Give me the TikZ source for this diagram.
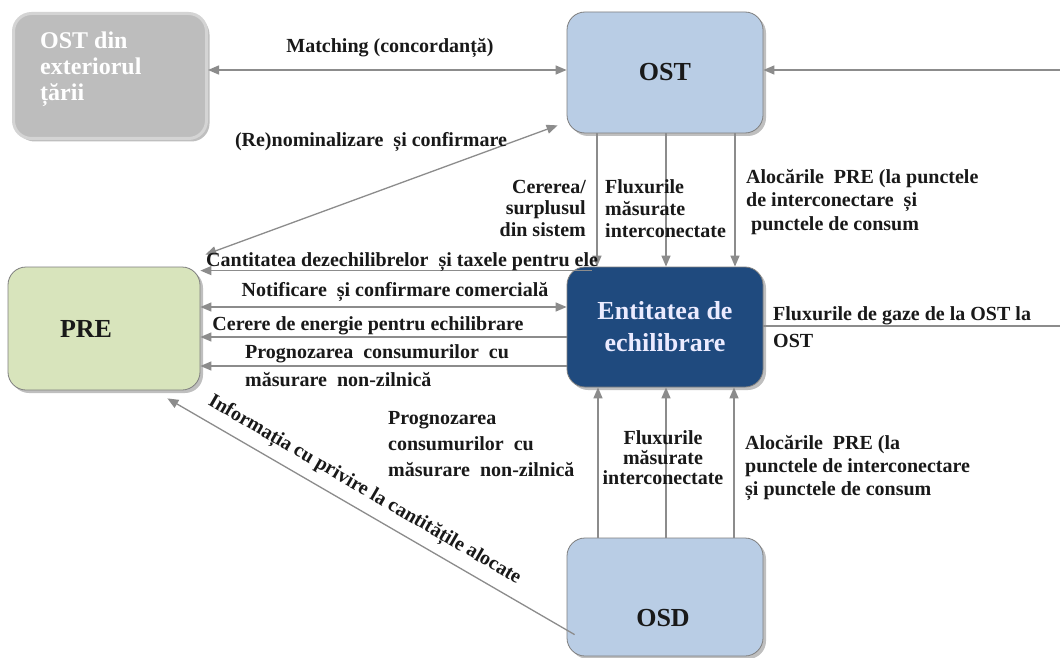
\documentclass[tikz,border=0pt]{standalone}
\usepackage{fontspec}
\setmainfont{Liberation Serif}
\usetikzlibrary{arrows.meta,shadows}
\definecolor{lineg}{HTML}{8C8C8C}
\definecolor{boxborder}{HTML}{7F7F7F}
\definecolor{ostfill}{HTML}{B9CDE5}
\definecolor{entfill}{HTML}{1F4A7E}
\definecolor{prefill}{HTML}{D8E4BC}
\definecolor{extfill}{HTML}{BDBDBD}
\definecolor{extring}{HTML}{D4D4D4}
\begin{document}
\begin{tikzpicture}[x=1pt,y=-1pt,
  box/.style={rounded corners=18pt, draw=boxborder, line width=0.8pt, minimum width=196pt, inner sep=0pt,
    drop shadow={shadow xshift=3pt,shadow yshift=-3pt,fill=black,opacity=0.25}},
  lbl/.style={font=\fontsize{20}{21}\selectfont\bfseries, inner sep=0pt, text=black!90},
  boxtxt/.style={font=\fontsize{26}{32}\selectfont\bfseries},
  arr/.style={draw=lineg, line width=1.3pt, -{Triangle[length=11pt,width=9pt]}},
  dbl/.style={draw=lineg, line width=1.3pt, {Triangle[length=11pt,width=9pt]}-{Triangle[length=11pt,width=9pt]}},
  ln/.style={draw=lineg, line width=1.3pt}]
\useasboundingbox (0,0) rectangle (1060,658);
\fill[white] (0,0) rectangle (1060,658);

% boxes
\node[box, fill=extfill, draw=extring, line width=3pt, minimum width=193pt, minimum height=125pt] (ostext) at (110,76) {};
\node[font=\fontsize{24}{26}\selectfont\bfseries, text=white, align=left, anchor=west, inner sep=0pt] (ostextt) at (40,69) {OST din\\exteriorul\\țării};
\node[box, fill=ostfill, minimum height=121pt, boxtxt, text=black!90] (ost) at (665,72.5) {OST};
\node[box, fill=prefill, minimum width=192pt, minimum height=123pt, boxtxt, text=black!90] (pre) at (104,328.5) {PRE\hspace*{36pt}};
\node[box, fill=entfill, minimum height=120pt, boxtxt, text=white!92!blue, align=center] (ent) at (665,327) {Entitatea de\\echilibrare};
\node[box, fill=ostfill, minimum height=118pt] (osd) at (665,597) {};
\node[boxtxt, text=black!90, inner sep=0pt] (osdt) at (663,618) {OSD};

% helper coordinates
\coordinate (mline) at (0,70);
\coordinate (rin) at (1060,70);
\coordinate (rout) at (1060,326);
\coordinate (yN) at (0,307);
\coordinate (yC) at (0,337);
\coordinate (yP) at (0,366);
\coordinate (cq) at ([shift={(25,4)}]ent.north west);

% top connectors
\draw[dbl] (ostext.east |- mline) -- (ost.west |- mline);
\node[lbl] (lmatch) at (390,48) {Matching (concordanță)};
\draw[arr] (rin) -- (rin -| ost.east);
\draw[dbl] ([shift={(5,-12)}]pre.north east) -- ([shift={(-9,-8)}]ost.south west);
\node[lbl] (lrenom) at (371,142) {(Re)nominalizare \ și confirmare};

% OST -> entity
\draw[arr] ([xshift=-68pt]ost.south) -- ([xshift=-68pt]ent.north);
\draw[arr] ([xshift=1pt]ost.south) -- ([xshift=1pt]ent.north);
\draw[arr] ([xshift=70pt]ost.south) -- ([xshift=70pt]ent.north);
\node[lbl, font=\fontsize{20}{21.5}\selectfont\bfseries, align=right, anchor=east] (lcer1) at (586,208) {Cererea/\\surplusul\\din sistem};
\node[lbl, font=\fontsize{20}{22}\selectfont\bfseries, align=left, anchor=west] (lflux1) at (605,209) {Fluxurile\\măsurate\\interconectate};
\node[lbl, font=\fontsize{20}{23.5}\selectfont\bfseries, align=left, anchor=west] (laloc1) at (746,202) {Alocările \ PRE (la punctele\\de interconectare \ și\\\ punctele de consum};

% PRE <-> entity
\draw[arr] (cq) -- (cq -| pre.east);
\node[lbl, anchor=west] (lcant) at (206,262) {Cantitatea dezechilibrelor \ și taxele pentru ele};
\draw[dbl] (pre.east |- yN) -- (ent.west |- yN);
\node[lbl] (lnotif) at (395,292) {Notificare \ și confirmare comercială};
\draw[arr] (ent.west |- yC) -- (pre.east |- yC);
\node[lbl] (lcerere) at (368,326) {Cerere de energie pentru echilibrare};
\draw[arr] (ent.west |- yP) -- (pre.east |- yP);
\node[lbl, font=\fontsize{20}{28}\selectfont\bfseries, align=left, anchor=west] (lprog1) at (245,366) {Prognozarea \ consumurilor \ cu\\măsurare \ non-zilnică};

% entity -> right
\draw[ln] (rout -| ent.east) -- (rout);
\node[lbl, font=\fontsize{20}{27}\selectfont\bfseries, align=left, anchor=west] (lgaze) at (773,327) {Fluxurile de gaze de la OST la\\OST};

% OSD -> entity
\draw[arr] ([xshift=-67pt]osd.north) -- ([xshift=-67pt]ent.south);
\draw[arr] ([xshift=1pt]osd.north) -- ([xshift=1pt]ent.south);
\draw[arr] ([xshift=69pt]osd.north) -- ([xshift=69pt]ent.south);
\node[lbl, font=\fontsize{20}{26}\selectfont\bfseries, align=left, anchor=west] (lprog2) at (388,444) {Prognozarea\\consumurilor \ cu\\măsurare \ non-zilnică};
\node[lbl, font=\fontsize{20}{20}\selectfont\bfseries, align=center] (lflux2) at (663,458) {Fluxurile\\măsurate\\interconectate};
\node[lbl, font=\fontsize{20}{23}\selectfont\bfseries, align=left, anchor=west] (laloc2) at (745,468) {Alocările \ PRE (la\\punctele de interconectare\\și punctele de consum};

% OSD -> PRE
\draw[arr] ([shift={(8,97)}]osd.north west) -- node[lbl, sloped, anchor=south, inner sep=9pt, pos=0.54] (linfo) {Informația cu privire la cantitățile alocate} ([shift={(-33,8)}]pre.south east);
\end{tikzpicture}
\end{document}
